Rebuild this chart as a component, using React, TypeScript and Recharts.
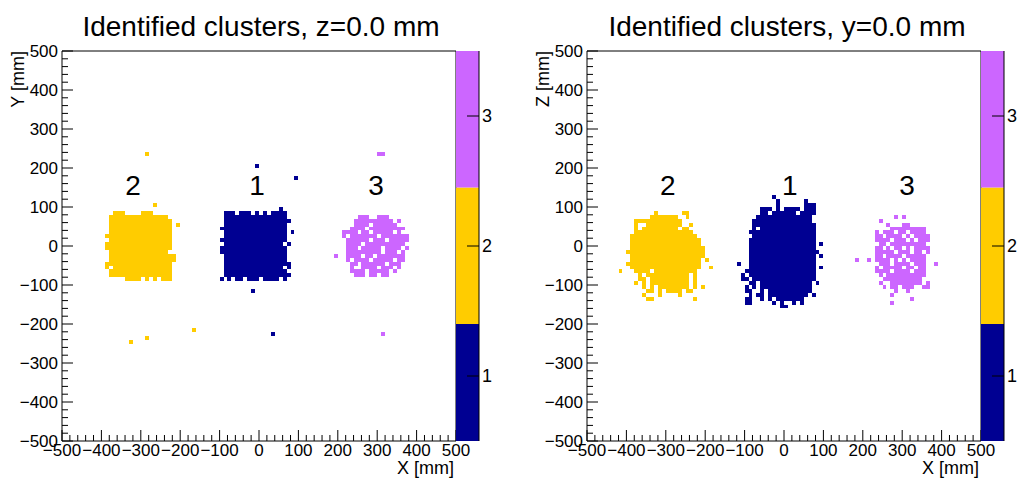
import React from 'react';
import { ScatterChart, Scatter, XAxis, YAxis, ReferenceArea, ComposedChart } from 'recharts';

const FONT = '"Liberation Sans", Arial, Helvetica, sans-serif';
const NAVY = '#000092';
const GOLD = '#FFCC00';
const VIOLET = '#CC66FF';

const BIN = 10; // mm per histogram bin
const AXIS_MIN = -500;
const AXIS_MAX = 500;
const majorTicks = [-500, -400, -300, -200, -100, 0, 100, 200, 300, 400, 500];
const colorBandEdges = [0.5, 1.4, 2.45, 3.5];
const colorBandColors = [NAVY, GOLD, VIOLET];
const colorTicks = [1, 2, 3];

// ---------- Left panel: X-Y view at z = 0 mm ----------
const xyTitle = 'Identified clusters, z=0.0 mm';
// cluster "2" (gold): origin = [left edge x, top edge y] of the bitmap, '#' = filled 10 mm bin
const xyC2Origin = [-390, 90];
const xyC2Rows = [
  '..###....###.......',
  '.###############...',
  '.################..',
  '.################.#',
  '.################..',
  '.################..',
  '#################..',
  '.################..',
  '#################..',
  '#################..',
  '.###############...',
  '.#################.',
  '.#################.',
  '#################..',
  '#.###############..',
  '.################..',
  '.################..',
  '.....####.#.#.###..',
];
const xyC2Extra = [[-265, 105], [-285, 235], [-325, -245], [-285, -235], [-165, -215]];
// cluster "1" (navy)
const xyC1Origin = [-100, 100];
const xyC1Rows = [
  '...............#...',
  '.###.###.#.#.####..',
  '.################..',
  '.#################.',
  '.################..',
  '#################..',
  '.################.#',
  '.################..',
  '#################..',
  '.###############.#.',
  '#################..',
  '#################..',
  '.################..',
  '.################..',
  '.#################.',
  '.###############.#.',
  '.################..',
  '.#################.',
  '#.#.##.###.####.#..',
];
const xyC1Extra = [[-15, -115], [-5, 205], [95, 175], [35, -225]];
// cluster "3" (violet)
const xyC3Origin = [210, 80];
const xyC3Rows = [
  '....###..###',
  '...##########.#',
  '...####.######.',
  '..####.#########',
  '####.##.#####.#',
  '#.#######.#######',
  '.######.###.#####',
  '.####.##########',
  '.###.#####.####.#',
  '.#########.###.#',
  '.####.##.#######',
  '.#.####.#####.##',
  '..##.######.###',
  '..#..####.###.#',
  '..####.#####.#',
  '...###.##.##',
];
const xyC3Extra = [[195, -25], [305, 235], [315, 235], [315, -225]];
const xyLabelNames = ['2', '1', '3'];
const xyLabelX = [-320, -5, 297];
const xyLabelY = [130, 130, 130];

// ---------- Right panel: X-Z view at y = 0 mm ----------
const xzTitle = 'Identified clusters, y=0.0 mm';
const xzC2Origin = [-400, 90];
const xzC2Rows = [
  '.......#......##',
  '......#######..#',
  '..############',
  '..#..#########..#',
  '..#.#########.##',
  '..###############',
  '.#################',
  '.##################',
  '.##################',
  '.###################',
  '####################',
  '.###################',
  '.##################.#',
  '###################',
  '.##################..#',
  '..####.###########',
  '...#.###########.#',
  '...##.##########.#',
  '..#.#.##########.#.',
  '....#.#.########.#.#',
  '.....##.#.####.##...',
  '....#...#....#......',
  '.....##..........#..',
];
const xzC2Extra = [[-415, -65]];
const xzC1Origin = [-130, 130];
const xzC1Rows = [
  '..........#',
  '...........#......#',
  '...........#......###',
  '.......###.#.####.###',
  '.......##.######.####',
  '......##############',
  '.....###############',
  '.....################',
  '.....#.##############',
  '....#################',
  '.....################',
  '....#################',
  '....#################.#',
  '....#################',
  '....##################',
  '....#################.#',
  '....#################',
  '.#..#################',
  '....#################.#',
  '...##################',
  '..#.#################',
  '..##.################',
  '....##.#############.#',
  '...#.#.#############',
  '...##..#.###########',
  '....#.##.##########.#',
  '...##..#.#.#######',
  '...##.....#.#..#.#',
  '............##',
];
const xzC1Extra: number[][] = [];
const xzC3Origin = [170, 80];
const xzC3Rows = [
  '...........#.#',
  '.......#',
  '.........#...##',
  '..........#########',
  '......#.###.##.####',
  '......##.####.#.####',
  '......####.###.#.###',
  '.......##.#########.',
  '......##.#.##.#.####',
  '......#####.###.##.#',
  '......##.####.#####',
  '.#..#.####.#.#.####',
  '.......###.####.###..#',
  '......#.#####.##.##',
  '......####.####.###',
  '.......#.##########',
  '........##########',
  '.......#..########.#',
  '........#.##.###..##',
  '...........#..#',
  '..........#',
  '...............#',
  '..........#',
];
const xzC3Extra: number[][] = [];
const xzLabelNames = ['2', '1', '3'];
const xzLabelX = [-295, 15, 312];
const xzLabelY = [130, 130, 130];

// ---------- helpers ----------
function decode(origin: number[], rows: string[], extra: number[][]) {
  const [x0, yTop] = origin;
  const pts: { x: number; y: number }[] = [];
  rows.forEach((row, r) => {
    for (let c = 0; c < row.length; c++) {
      if (row[c] === '#') pts.push({ x: x0 + BIN * c + BIN / 2, y: yTop - BIN * r - BIN / 2 });
    }
  });
  extra.forEach(([x, y]) => pts.push({ x, y }));
  return pts;
}

const allTicks: number[] = [];
for (let i = 0; i < majorTicks.length; i++) {
  allTicks.push(majorTicks[i]);
  if (i < majorTicks.length - 1) {
    for (let k = 1; k < 5; k++) allTicks.push(majorTicks[i] + k * 20);
  }
}

const fmt = (v: number) => (v < 0 ? '\u2212' + Math.abs(v) : String(v));

const PLOT_W = 394;
const PLOT_H = 390;
const HALF_W = PLOT_W / 200;
const HALF_H = PLOT_H / 200;
// snap to pixel grid consistently (neutralise float noise before rounding)
const snap = (v: number) => Math.round(Math.round(v * 1000) / 1000);

const cellShape = (color: string) => (p: any) => {
  const x1 = snap(p.cx - HALF_W);
  const x2 = snap(p.cx + HALF_W);
  const y1 = snap(p.cy - HALF_H);
  const y2 = snap(p.cy + HALF_H);
  return <rect x={x1} y={y1} width={x2 - x1} height={y2 - y1} fill={color} shapeRendering="crispEdges" />;
};

const labelShape = (p: any) => (
  <text x={p.cx} y={p.cy} textAnchor="middle" fontSize={28} fill="#000">
    {p.payload.name}
  </text>
);

const XTick = (props: any) => {
  const { x, y, payload } = props;
  const v = payload.value;
  const major = v % 100 === 0;
  return (
    <g>
      <line x1={x} y1={y} x2={x} y2={y - (major ? 11 : 6)} stroke="#000" strokeWidth={1} />
      {major && (
        <text x={x} y={y + 15} textAnchor="middle" fontSize={17} fill="#000">
          {fmt(v)}
        </text>
      )}
    </g>
  );
};

const YTick = (props: any) => {
  const { x, y, payload } = props;
  const v = payload.value;
  const major = v % 100 === 0;
  return (
    <g>
      <line x1={x} y1={y} x2={x + (major ? 11 : 6)} y2={y} stroke="#000" strokeWidth={1} />
      {major && (
        <text x={x - 4} y={y} dy="0.35em" textAnchor="end" fontSize={17} fill="#000">
          {fmt(v)}
        </text>
      )}
    </g>
  );
};

const ZTick = (props: any) => {
  const { x, y, payload } = props;
  return (
    <g>
      <line x1={x - 12} y1={y} x2={x} y2={y} stroke="#000" strokeWidth={1} />
      <text x={x + 3} y={y} dy="0.35em" textAnchor="start" fontSize={18} fill="#000">
        {payload.value}
      </text>
    </g>
  );
};

type Cluster = { color: string; points: { x: number; y: number }[] };

function Panel(props: {
  left: number;
  yAxisWidth: number;
  yTitle: string;
  clusters: Cluster[];
  labels: { x: number; y: number; name: string }[];
}) {
  const { left, yAxisWidth, yTitle, clusters, labels } = props;
  const W = 509;
  return (
    <div style={{ position: 'absolute', left, top: 0, width: W, height: 482 }}>
      <ScatterChart
        width={W}
        height={482}
        margin={{ top: 51, right: W - yAxisWidth - PLOT_W, bottom: 0, left: 0 }}
      >
        <XAxis
          type="number"
          dataKey="x"
          domain={[AXIS_MIN, AXIS_MAX]}
          ticks={allTicks}
          interval={0}
          height={41}
          tickSize={0}
          tickMargin={0}
          tickLine={false}
          axisLine={false}
          allowDataOverflow
          tick={XTick}
          label={{
            content: (lp: any) => {
              const vb = lp.viewBox || {};
              return (
                <text x={vb.x + vb.width - 2} y={vb.y + 33} textAnchor="end" fontSize={18} fill="#000">
                  X [mm]
                </text>
              );
            },
          }}
        />
        <YAxis
          type="number"
          dataKey="y"
          domain={[AXIS_MIN, AXIS_MAX]}
          ticks={allTicks}
          interval={0}
          width={yAxisWidth}
          tickSize={0}
          tickMargin={0}
          tickLine={false}
          axisLine={false}
          allowDataOverflow
          tick={YTick}
          label={{
            content: (lp: any) => {
              const vb = lp.viewBox || {};
              const tx = vb.x + vb.width - 38;
              const ty = vb.y;
              return (
                <text
                  x={tx}
                  y={ty}
                  transform={`rotate(-90 ${tx} ${ty})`}
                  textAnchor="end"
                  fontSize={18}
                  fill="#000"
                >
                  {yTitle}
                </text>
              );
            },
          }}
        />
        {clusters.map((c, i) => (
          <Scatter key={i} data={c.points} fill={c.color} shape={cellShape(c.color)} isAnimationActive={false} />
        ))}
        <Scatter data={labels} fill="#000" shape={labelShape} isAnimationActive={false} />
        <ReferenceArea x1={AXIS_MIN} x2={AXIS_MAX} y1={AXIS_MIN} y2={AXIS_MAX} fill="none" stroke="#000" strokeWidth={1} />
      </ScatterChart>
    </div>
  );
}

function ColorBar(props: { left: number; width: number; axisWidth: number }) {
  const { left, width, axisWidth } = props;
  const data = [{ x: 0 }, { x: 1 }];
  return (
    <div style={{ position: 'absolute', left, top: 0, width, height: 482 }}>
      <ComposedChart width={width} height={482} data={data} margin={{ top: 51, right: 0, bottom: 41, left: 0 }}>
        <XAxis type="number" dataKey="x" domain={[0, 1]} hide />
        <YAxis
          orientation="right"
          type="number"
          domain={[colorBandEdges[0], colorBandEdges[colorBandEdges.length - 1]]}
          ticks={colorTicks}
          interval={0}
          width={axisWidth}
          tickSize={0}
          tickMargin={0}
          tickLine={false}
          axisLine={{ stroke: '#000' }}
          allowDataOverflow
          tick={ZTick}
        />
        {colorBandColors.map((col, i) => (
          <ReferenceArea
            key={i}
            x1={0}
            x2={1}
            y1={colorBandEdges[i]}
            y2={colorBandEdges[i + 1]}
            fill={col}
            fillOpacity={1}
            stroke="none"
          />
        ))}
      </ComposedChart>
    </div>
  );
}

const mkLabels = (names: string[], xs: number[], ys: number[]) =>
  names.map((name, i) => ({ x: xs[i], y: ys[i], name }));

export default function App() {
  const xyClusters: Cluster[] = [
    { color: GOLD, points: decode(xyC2Origin, xyC2Rows, xyC2Extra) },
    { color: NAVY, points: decode(xyC1Origin, xyC1Rows, xyC1Extra) },
    { color: VIOLET, points: decode(xyC3Origin, xyC3Rows, xyC3Extra) },
  ];
  const xzClusters: Cluster[] = [
    { color: GOLD, points: decode(xzC2Origin, xzC2Rows, xzC2Extra) },
    { color: NAVY, points: decode(xzC1Origin, xzC1Rows, xzC1Extra) },
    { color: VIOLET, points: decode(xzC3Origin, xzC3Rows, xzC3Extra) },
  ];
  return (
    <div
      style={{
        position: 'absolute',
        left: 0,
        top: 0,
        width: 1018,
        height: 482,
        background: '#fff',
        fontFamily: FONT,
        overflow: 'hidden',
      }}
    >
      <Panel
        left={0}
        yAxisWidth={62}
        yTitle="Y [mm]"
        clusters={xyClusters}
        labels={mkLabels(xyLabelNames, xyLabelX, xyLabelY)}
      />
      <ColorBar left={456} width={50} axisWidth={27} />
      <Panel
        left={509}
        yAxisWidth={78}
        yTitle="Z [mm]"
        clusters={xzClusters}
        labels={mkLabels(xzLabelNames, xzLabelX, xzLabelY)}
      />
      <ColorBar left={981} width={37} axisWidth={14} />
      <svg width={1018} height={60} style={{ position: 'absolute', left: 0, top: 0 }}>
        <text x={261} y={36} textAnchor="middle" fontSize={28} fill="#000" fontFamily={FONT}>
          {xyTitle}
        </text>
        <text x={787} y={36} textAnchor="middle" fontSize={28} fill="#000" fontFamily={FONT}>
          {xzTitle}
        </text>
      </svg>
    </div>
  );
}
